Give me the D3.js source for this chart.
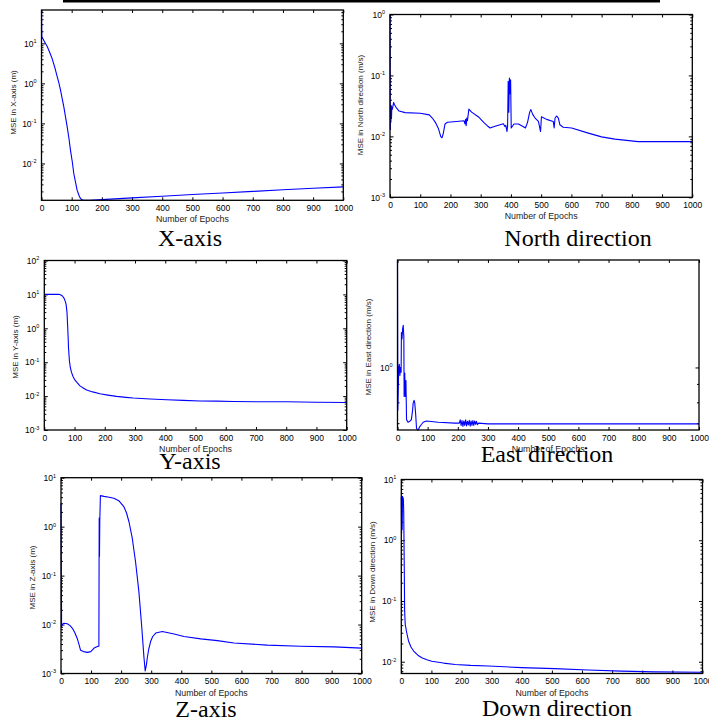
<!DOCTYPE html>
<html>
<head>
<meta charset="utf-8">
<script src="https://cdn.jsdelivr.net/npm/d3@7"></script>
<style>
  body { margin: 0; background: #fff; }
  svg { display: block; }
</style>
</head>
<body>
<div id="container"></div>
<script>
// epochs shared by every panel
let xTickValues = [0, 100, 200, 300, 400, 500, 600, 700, 800, 900, 1000];

// X-axis position error
let xAxisEpochs = [0, 1, 10, 19, 27, 35, 44, 52, 58, 63, 69, 74, 80, 85, 91, 96, 102, 107, 113, 118, 124, 129, 135, 140, 160, 200, 300, 400, 500, 600, 700, 800, 900, 1000];
let xAxisMSE = [68, 14.7, 11, 8.3, 6.0, 4.2, 2.5, 1.47, 1.0, 0.68, 0.4, 0.26, 0.14, 0.083, 0.042, 0.0215, 0.011, 0.0056, 0.0033, 0.00215, 0.0016, 0.00133, 0.00124, 0.0012, 0.0012, 0.00125, 0.00138, 0.00152, 0.00167, 0.00183, 0.002, 0.0022, 0.0024, 0.0026];

// North velocity error
let northEpochs = [0, 1, 2, 3, 4, 5, 6, 8, 12, 15, 20, 30, 50, 100, 130, 140, 150, 160, 168, 172, 176, 182, 190, 220, 245, 248, 250, 252, 254, 256, 261, 270, 292, 310, 325, 331, 345, 375, 380, 383, 387, 389, 391, 393, 395, 397, 399, 401, 410, 425, 440, 448, 455, 462, 466, 472, 480, 491, 498, 501, 518, 540, 543, 546, 551, 557, 562, 573, 601, 656, 700, 744, 821, 1000];
let northMSE = [1.0, 0.013, 0.03, 0.017, 0.032, 0.02, 0.03, 0.028, 0.036, 0.033, 0.03, 0.026, 0.0245, 0.024, 0.0225, 0.02, 0.017, 0.0135, 0.0099, 0.0095, 0.011, 0.016, 0.017, 0.0175, 0.018, 0.016, 0.019, 0.015, 0.02, 0.018, 0.028, 0.025, 0.021, 0.017, 0.0145, 0.0137, 0.0145, 0.0161, 0.0145, 0.0152, 0.012, 0.015, 0.08, 0.025, 0.091, 0.05, 0.085, 0.0137, 0.016, 0.016, 0.0145, 0.0137, 0.017, 0.025, 0.0275, 0.023, 0.02, 0.0176, 0.012, 0.021, 0.019, 0.0176, 0.0137, 0.02, 0.0216, 0.02, 0.0155, 0.0141, 0.0137, 0.0113, 0.0098, 0.009, 0.0082, 0.0082];

// Y-axis position error
let yAxisEpochs = [0, 2, 50, 55, 60, 65, 70, 72, 75, 77, 79, 80, 83, 86, 90, 95, 101, 110, 118, 130, 140, 160, 184, 210, 239, 270, 294, 350, 405, 460, 515, 570, 625, 700, 800, 900, 1000];
let yAxisMSE = [8, 10, 10, 9.6, 9, 7.8, 6, 5.1, 3, 1.3, 0.5, 0.27, 0.11, 0.07, 0.05, 0.038, 0.03, 0.024, 0.02, 0.017, 0.0151, 0.0133, 0.0117, 0.0107, 0.0098, 0.0092, 0.0088, 0.0082, 0.0078, 0.0075, 0.0072, 0.0071, 0.0069, 0.0068, 0.0068, 0.0066, 0.0065];

// East velocity error
let eastEpochs = [0, 1, 3, 4, 6, 8, 10, 12, 13, 15, 17, 19, 21, 22, 24, 26, 28, 30, 35, 42, 46, 50, 52, 55, 57, 60, 63, 66, 69, 72, 74, 80, 85, 96, 135, 190, 205, 208, 211, 214, 217, 220, 223, 226, 229, 232, 235, 238, 241, 244, 247, 250, 253, 256, 259, 262, 265, 268, 300, 1000];
let eastMSE = [1.99, 0.76, 0.9, 1.0, 1.02, 0.95, 1.0, 0.97, 1.25, 1.2, 1.28, 1.31, 1.22, 0.83, 0.965, 0.83, 0.92, 0.716, 0.704, 0.71, 0.716, 0.76, 0.796, 0.81, 0.8, 0.747, 0.679, 0.67, 0.67, 0.68, 0.685, 0.695, 0.704, 0.71, 0.704, 0.7, 0.7, 0.715, 0.69, 0.712, 0.686, 0.71, 0.69, 0.715, 0.688, 0.708, 0.692, 0.713, 0.687, 0.71, 0.69, 0.712, 0.69, 0.71, 0.695, 0.708, 0.693, 0.7, 0.697, 0.697];

// Z-axis position error
let zAxisEpochs = [0, 2, 5, 10, 21, 30, 38, 46, 54, 60, 65, 75, 88, 99, 110, 123, 126, 127, 128, 129, 131, 143, 160, 176, 192, 209, 218, 226, 237, 248, 259, 268, 276, 280, 284, 287, 292, 298, 305, 315, 337, 376, 409, 465, 520, 575, 686, 797, 908, 1000];
let zAxisMSE = [3, 0.0091, 0.0102, 0.0106, 0.0104, 0.0095, 0.0084, 0.0068, 0.0052, 0.0039, 0.003, 0.0028, 0.0027, 0.0028, 0.0033, 0.0036, 0.0036, 1.5, 0.25, 1.3, 4.3, 4.15, 4.0, 3.8, 3.4, 2.56, 1.9, 1.26, 0.58, 0.19, 0.047, 0.0098, 0.0021, 0.00113, 0.0015, 0.0021, 0.0032, 0.0045, 0.0057, 0.0067, 0.0072, 0.0064, 0.0057, 0.0051, 0.0047, 0.0042, 0.0038, 0.0036, 0.0035, 0.0033];

// Down velocity error
let downEpochs = [0, 1, 2, 3, 4, 5, 6, 7, 8, 10, 11, 13, 18, 24, 32, 41, 55, 68, 85, 101, 140, 179, 230, 289, 399, 509, 620, 730, 840, 1000];
let downMSE = [5.2, 1.3, 5, 1.5, 5.3, 4.8, 5, 4.6, 3, 0.3, 0.07, 0.041, 0.03, 0.022, 0.0175, 0.015, 0.0128, 0.0116, 0.0108, 0.0102, 0.0095, 0.009, 0.0087, 0.0085, 0.008, 0.0077, 0.0073, 0.007, 0.0068, 0.0067];

let w = 709;
let h = 720;

let viz = d3.select("#container")
  .append("svg")
    .attr("width", w)
    .attr("height", h)
    .style("background-color", "#fff");

// black rule at the very top of the page
viz.append("rect")
  .attr("x", 63).attr("y", 0)
  .attr("width", 597).attr("height", 2.5)
  .attr("fill", "#000");

let panels = [
  {left: 41.5, right: 343.3, top: 10, bottom: 200.3, domain: [0.0012, 68],
   epochs: xAxisEpochs, values: xAxisMSE, ylabel: "MSE in X-axis (m)", ylabelX: 13.5, ylabelY: 102.5,
   title: "X-axis", titleX: 190, titleY: 246},
  {left: 390, right: 692.3, top: 14.5, bottom: 197.3, domain: [0.001, 1],
   epochs: northEpochs, values: northMSE, ylabel: "MSE in North direction (m/s)", ylabelX: 360, ylabelY: 105,
   title: "North direction", titleX: 578, titleY: 246},
  {left: 44.3, right: 346.7, top: 260.5, bottom: 430, domain: [0.001, 100],
   epochs: yAxisEpochs, values: yAxisMSE, ylabel: "MSE in Y-axis (m)", ylabelX: 15, ylabelY: 347,
   title: "Y-axis", titleX: 190, titleY: 469},
  {left: 397.5, right: 699, top: 260, bottom: 430, domain: [0.67, 1.99],
   epochs: eastEpochs, values: eastMSE, ylabel: "MSE in East direction (m/s)", ylabelX: 368.3, ylabelY: 347,
   title: "East direction", titleX: 547, titleY: 461.5},
  {left: 61, right: 361.7, top: 477.7, bottom: 673.5, domain: [0.001, 10],
   epochs: zAxisEpochs, values: zAxisMSE, ylabel: "MSE in Z-axis (m)", ylabelX: 31.7, ylabelY: 577.5,
   title: "Z-axis", titleX: 206, titleY: 717},
  {left: 401.3, right: 702.5, top: 479.5, bottom: 673.5, domain: [0.0064, 10],
   epochs: downEpochs, values: downMSE, ylabel: "MSE in Down direction (m/s)", ylabelX: 371.7, ylabelY: 572,
   title: "Down direction", titleX: 557, titleY: 715.5}
];

function drawPanel(p) {
  let x = d3.scaleLinear().domain([0, 1000]).range([p.left, p.right]);
  let y = d3.scaleLog().domain(p.domain).range([p.bottom, p.top]).clamp(true);

  // decade ticks and the 2..9 minor ticks that fall inside the range
  let majors = [];
  let minors = [];
  let lo = Math.floor(Math.log10(p.domain[0]));
  let hi = Math.ceil(Math.log10(p.domain[1]));
  for (let d = lo; d <= hi; d++) {
    for (let k = 1; k <= 9; k++) {
      let v = k * Math.pow(10, d);
      if (v < p.domain[0] * 0.9999 || v > p.domain[1] * 1.0001) continue;
      if (k == 1) majors.push(v); else minors.push(v);
    }
  }

  let g = viz.append("g");

  let bottomAxis = g.append("g")
    .attr("transform", `translate(0,${p.bottom})`)
    .call(d3.axisBottom(x).tickValues(xTickValues).tickSize(-3).tickPadding(4.5).tickFormat(d3.format("d")));
  bottomAxis.attr("font-size", 8.5).attr("font-family", "'Liberation Sans', Arial, sans-serif");

  g.append("g")
    .attr("transform", `translate(0,${p.top})`)
    .call(d3.axisTop(x).tickValues(xTickValues).tickSize(-3).tickFormat(""));

  let leftAxis = g.append("g")
    .attr("transform", `translate(${p.left},0)`)
    .call(d3.axisLeft(y).tickValues(majors).tickSize(-3.5).tickPadding(5).tickFormat(""));
  leftAxis.attr("font-size", 8.5).attr("font-family", "'Liberation Sans', Arial, sans-serif");
  leftAxis.selectAll(".tick text").each(function(d) {
    let t = d3.select(this);
    t.text("10");
    t.append("tspan")
      .attr("dy", "-0.6em")
      .attr("font-size", 5.5)
      .text(Math.round(Math.log10(d)));
  });

  g.append("g")
    .attr("transform", `translate(${p.left},0)`)
    .call(d3.axisLeft(y).tickValues(minors).tickSize(-2).tickFormat(""));

  g.append("g")
    .attr("transform", `translate(${p.right},0)`)
    .call(d3.axisRight(y).tickValues(majors).tickSize(-3.5).tickFormat(""));

  g.append("g")
    .attr("transform", `translate(${p.right},0)`)
    .call(d3.axisRight(y).tickValues(minors).tickSize(-2).tickFormat(""));

  g.selectAll(".domain").remove();
  g.selectAll(".tick line").attr("stroke", "#000").attr("stroke-width", 1);

  // the data curve
  let line = d3.line()
    .x(d => x(d[0]))
    .y(d => y(d[1]));

  g.append("path")
    .datum(d3.zip(p.epochs, p.values))
    .attr("d", line)
    .attr("fill", "none")
    .attr("stroke", "#0000ff")
    .attr("stroke-width", 1.1)
    .attr("stroke-linejoin", "round");

  // frame
  g.append("rect")
    .attr("x", p.left).attr("y", p.top)
    .attr("width", p.right - p.left).attr("height", p.bottom - p.top)
    .attr("fill", "none")
    .attr("stroke", "#000")
    .attr("stroke-width", 1.3);

  g.append("text")
    .attr("x", (p.left + p.right) / 2)
    .attr("y", p.bottom + 19)
    .attr("dy", "0.35em")
    .attr("text-anchor", "middle")
    .attr("font-family", "'Liberation Sans', Arial, sans-serif")
    .attr("font-size", 8.8)
    .attr("fill", "#222")
    .text("Number of Epochs");

  g.append("text")
    .attr("transform", `translate(${p.ylabelX},${p.ylabelY}) rotate(-90)`)
    .attr("dy", "0.35em")
    .attr("text-anchor", "middle")
    .attr("font-family", "'Liberation Sans', Arial, sans-serif")
    .attr("font-size", 8)
    .attr("fill", "#222")
    .text(p.ylabel);

  g.append("text")
    .attr("x", p.titleX)
    .attr("y", p.titleY)
    .attr("text-anchor", "middle")
    .attr("font-family", "'Liberation Serif', 'Times New Roman', serif")
    .attr("font-size", 24)
    .attr("fill", "#000")
    .text(p.title);
}

panels.forEach(drawPanel);
</script>
</body>
</html>
